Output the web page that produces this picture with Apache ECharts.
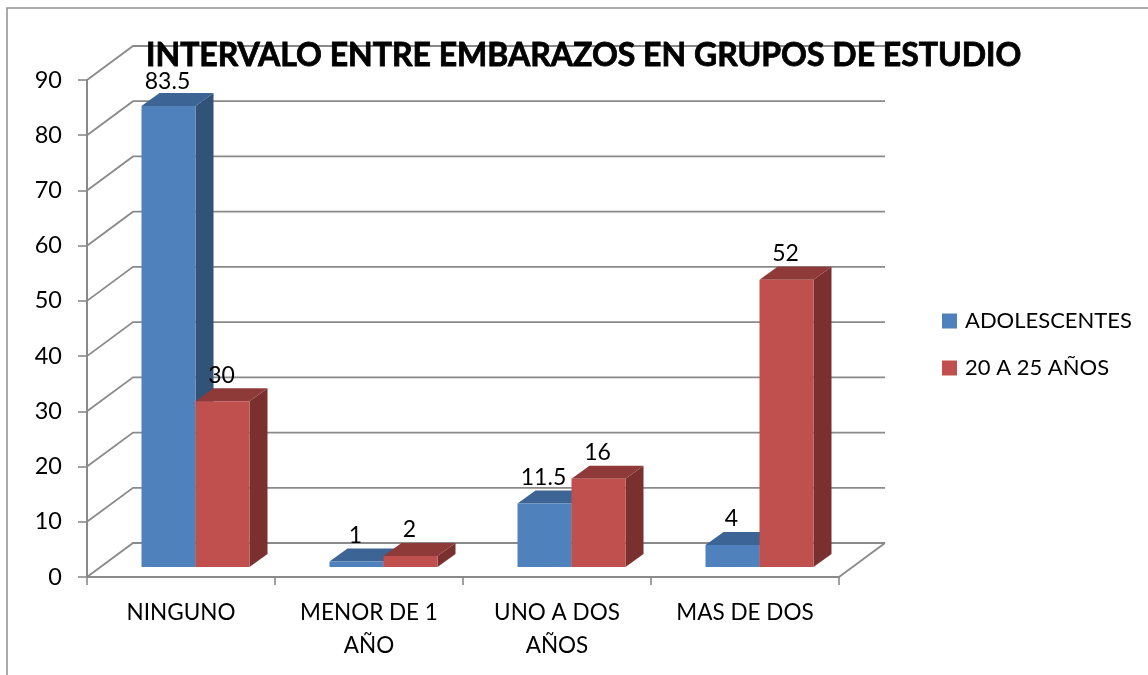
<!DOCTYPE html>
<html><head><meta charset="utf-8">
<style>html,body{margin:0;padding:0;background:#fff}#c{width:1148px;height:675px}</style>
<script src="https://cdn.jsdelivr.net/npm/echarts@6/dist/echarts.min.js"></script>
</head><body><div id="c"></div>
<script>
const categories = ["NINGUNO", "MENOR DE 1 AÑO", "UNO A DOS AÑOS", "MAS DE DOS"];
const adolescentes = [83.5, 1, 11.5, 4];
const grupo20a25 = [30, 2, 16, 52];
const yTicks = [0, 10, 20, 30, 40, 50, 60, 70, 80, 90];
const titleText = "INTERVALO ENTRE EMBARAZOS EN GRUPOS DE ESTUDIO";
const FONT = "Lato";
const GRID_COLOR = "#8a8a8a";
const TEXT = "#000";
const WALL_DX = 46, WALL_DY = -34;
const FLOOR_DX = 14.5, FLOOR_DY = -10;
const BAR_W = 54, BAR_DX = 18, BAR_DY = -13;
const NAME_A = "ADOLESCENTES", NAME_B = "20 A 25 AÑOS";

function gridItem(params, api) {
  const cs = params.coordSys;
  const y = api.coord([0, api.value(1)])[1];
  const x0 = cs.x, x1 = cs.x + cs.width;
  const children = [{
    type: "polyline",
    shape: { points: [[x0, y], [x0 + WALL_DX, y + WALL_DY], [x1 + WALL_DX, y + WALL_DY]] },
    style: { stroke: GRID_COLOR, lineWidth: 1.8, fill: null }
  }];
  if (api.value(1) === 0) {
    children.push({
      type: "line",
      shape: { x1: x1, y1: y, x2: x1 + WALL_DX, y2: y + WALL_DY },
      style: { stroke: GRID_COLOR, lineWidth: 1.8 }
    });
  }
  return { type: "group", children };
}

function barRenderer(seriesIdx, front, top, side) {
  return function (params, api) {
    const c = api.coord([api.value(0), api.value(1)]);
    const base = api.coord([api.value(0), 0])[1] + FLOOR_DY;
    const ceiling = api.coord([0, yTicks[yTicks.length - 1]])[1];
    const xC = c[0] + FLOOR_DX;
    const xL = seriesIdx === 0 ? xC - BAR_W : xC;
    const xR = xL + BAR_W;
    const yT = c[1] + FLOOR_DY;
    const poly = (pts, fill) => ({ type: "polygon", shape: { points: pts }, style: { fill } });
    return {
      type: "group",
      children: [
        poly([[xR, yT], [xR + BAR_DX, yT + BAR_DY], [xR + BAR_DX, base + BAR_DY], [xR, base]], side),
        poly([[xL, yT], [xL + BAR_DX, yT + BAR_DY], [xR + BAR_DX, yT + BAR_DY], [xR, yT]], top),
        { type: "rect", shape: { x: xL, y: yT, width: BAR_W, height: base - yT }, style: { fill: front } },
        { type: "text", z2: 50, style: {
            text: String(api.value(1)), x: (xL + xR) / 2 - 1,
            y: Math.max(ceiling, yT + BAR_DY - 14.5) + 1.5,
            fill: TEXT, font: "23px " + FONT, align: "center", verticalAlign: "middle" } }
      ]
    };
  };
}

const chart = echarts.init(document.getElementById("c"), null, { renderer: "canvas" });
chart.setOption({
  animation: false,
  backgroundColor: "#fff",
  title: { text: titleText, left: 146, top: 40, padding: 0,
    textStyle: { fontFamily: FONT, fontWeight: "bold", fontSize: 32, color: TEXT,
      textBorderColor: TEXT, textBorderWidth: 0.8 } },
  legend: { orient: "vertical", left: 942, top: 310, padding: 0, itemWidth: 15, itemHeight: 15, itemGap: 25,
    data: [NAME_A, NAME_B], icon: "rect", selectedMode: false,
    textStyle: { fontFamily: FONT, fontSize: 22, color: TEXT, padding: [0, 0, 0, 3] } },
  grid: { left: 87, right: 309, top: 80, bottom: 98 },
  xAxis: { type: "category", data: categories,
    axisLine: { lineStyle: { color: GRID_COLOR, width: 2 } },
    axisTick: { show: true, length: 8, lineStyle: { color: GRID_COLOR, width: 1.6 } },
    axisLabel: { interval: 0, color: TEXT, fontFamily: FONT, fontSize: 22.5, lineHeight: 33, margin: 19,
      formatter: v => v.length > 10 ? v.replace(/ (\S+)$/, "\n$1") : v } },
  yAxis: { type: "value", min: 0, max: 90, interval: 10, splitLine: { show: false },
    axisLine: { show: true, lineStyle: { color: GRID_COLOR, width: 2 } },
    axisTick: { show: true, length: 9, lineStyle: { color: GRID_COLOR, width: 1.6 } },
    axisLabel: { color: TEXT, fontFamily: FONT, fontSize: 23.5, margin: 25, padding: [5, 0, 0, 0] } },
  graphic: [{ type: "rect", silent: true, z: -1,
    shape: { x: 7, y: 8, width: 1300, height: 800 },
    style: { fill: null, stroke: "#8e8e8e", lineWidth: 1.5 } }],
  series: [
    { type: "custom", name: "rejilla", renderItem: gridItem, clip: false, z: 1, silent: true,
      encode: { x: 0, y: 1 }, data: yTicks.map(v => [0, v]) },
    { type: "custom", name: NAME_A, renderItem: barRenderer(0, "#4F81BD", "#3C6494", "#325378"),
      clip: false, z: 2, itemStyle: { color: "#4F81BD" }, encode: { x: 0, y: 1 },
      data: adolescentes.map((v, i) => [i, v]) },
    { type: "custom", name: NAME_B, renderItem: barRenderer(1, "#C0504D", "#8E3A38", "#7A302E"),
      clip: false, z: 3, itemStyle: { color: "#C0504D" }, encode: { x: 0, y: 1 },
      data: grupo20a25.map((v, i) => [i, v]) }
  ]
});
</script></body></html>
